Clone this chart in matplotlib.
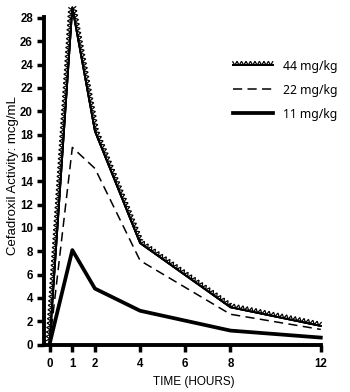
import matplotlib
matplotlib.use('Agg')
import matplotlib.pyplot as plt
import matplotlib.patheffects as pe

# time points (hours)
hours = [0, 1, 2, 4, 8, 12]
# cefadroxil activity, mcg/mL
dose44 = [0.3, 28.9, 18.3, 8.7, 3.2, 1.6]
dose22 = [0.2, 16.9, 15.1, 7.2, 2.6, 1.3]
dose11 = [0.1, 8.1, 4.8, 2.9, 1.2, 0.6]

labels = ['44 mg/kg', '22 mg/kg', '11 mg/kg']
xticks = [0, 1, 2, 4, 6, 8, 12]
yticks = list(range(0, 29, 2))

narrow = ['Liberation Sans', 'DejaVu Sans']

fig = plt.figure(figsize=(3.5, 3.92), dpi=100)
ax = fig.add_axes([0.126, 0.115, 0.797, 0.875])

# serrated line for the 44 mg/kg curve
saw = [pe.Stroke(),
       pe.withTickedStroke(spacing=3.2, angle=60, length=0.9, linewidth=0.9),
       pe.withTickedStroke(spacing=3.2, angle=120, length=0.9, linewidth=0.9)]
l44, = ax.plot(hours, dose44, color='black', lw=1.3, label=labels[0])
l44.set_path_effects(saw)
ax.plot(hours, dose22, color='black', lw=1.1, dashes=(6, 3.5), label=labels[1])
ax.plot(hours, dose11, color='black', lw=2.7, label=labels[2])

ax.set_xlim(-0.25, 12.1)
ax.set_ylim(-0.2, 29.2)
ax.spines['top'].set_visible(False)
ax.spines['right'].set_visible(False)
ax.spines['left'].set_linewidth(2.8)
ax.spines['bottom'].set_linewidth(2.8)
ax.spines['left'].set_bounds(0, 28.1)
ax.spines['bottom'].set_bounds(-0.25, 12)
ax.spines['bottom'].set_position(('data', 0))

ax.set_xticks(xticks)
ax.set_yticks(yticks)
ax.tick_params(direction='out', width=2.5, length=5, labelsize=8.3, pad=3)
ax.tick_params(axis='x', pad=5)
for t in ax.get_xticklabels() + ax.get_yticklabels():
    t.set_family(narrow)
    t.set_fontweight('bold')

ax.set_xlabel('TIME (HOURS)', family=narrow, fontsize=8.5)
ax.xaxis.set_label_coords(0.535, -0.085)
ax.set_ylabel('Cefadroxil Activity: mcg/mL', family=narrow, fontsize=9.5, labelpad=1)

leg = ax.legend(loc='upper right', bbox_to_anchor=(1.09, 0.87), frameon=False,
                prop={'family': 'Noto Sans', 'size': 8.8}, handlelength=3.3,
                labelspacing=0.9, handletextpad=0.8)

fig.savefig('out.png', dpi=100)
